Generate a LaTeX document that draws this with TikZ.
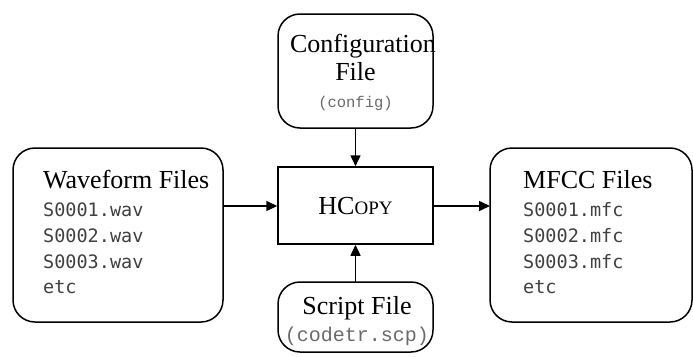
\documentclass[tikz,border=0pt]{standalone}
\usepackage{fontspec}
\setmainfont{Liberation Serif}
\newfontfamily\listmono{DejaVu Sans Mono}
\newfontfamily\argmono{Liberation Mono}
\usetikzlibrary{arrows.meta}
\definecolor{listgrey}{HTML}{404040}
\definecolor{arggrey}{HTML}{6A6A6A}
\tikzset{
  filebox/.style={draw, line width=1.5pt, rounded corners=22pt},
  toolbox/.style={draw, line width=1.5pt},
  flow/.style={line width=1.5pt, -{Triangle[length=11pt,width=10pt]}},
  heading/.style={font=\fontsize{26}{28}\selectfont, inner sep=0pt},
  entry/.style={font=\fontsize{18.5}{20}\listmono, text=listgrey, anchor=base west, inner sep=0pt},
}
\begin{document}
\begin{tikzpicture}[x=1pt,y=-1pt]
  \useasboundingbox (0,0) rectangle (693,356);

  % boxes
  \draw[filebox] (13,148) rectangle (223,322);
  \coordinate (wav) at (223,206);
  \draw[filebox] (490,148) rectangle (692,322);
  \coordinate (mfc) at (490,206);
  \draw[filebox] (278,14) rectangle (433,128);
  \coordinate (cfg) at (355.5,128);
  \draw[filebox] (278,282) rectangle (433,352);
  \coordinate (scp) at (355.5,282);
  \node[toolbox, minimum width=155pt, minimum height=77pt, inner sep=0pt] (hcopy) at (355.5,205.5) {};
  \node[font=\fontsize{26}{28}\selectfont, anchor=base, inner sep=0pt] (hname) at (355.5,214)
    {HC{\fontsize{19}{21}\selectfont OPY}};

  % waveform list
  \node[heading, anchor=base west] (wavtitle) at (43,188) {Waveform Files};
  \node[entry] (w1) at (43,216) {S0001.wav};
  \node[entry] (w2) at (43,242) {S0002.wav};
  \node[entry] (w3) at (43,268) {S0003.wav};
  \node[entry] (w4) at (43,293) {etc};

  % mfcc list
  \node[heading, anchor=base west] (mfctitle) at (523,188) {MFCC Files};
  \node[entry] (m1) at (523,216) {S0001.mfc};
  \node[entry] (m2) at (523,242) {S0002.mfc};
  \node[entry] (m3) at (523,268) {S0003.mfc};
  \node[entry] (m4) at (523,293) {etc};

  % configuration file
  \node[heading, anchor=base] (cfgt1) at (363,52) {Configuration};
  \node[heading, anchor=base] (cfgt2) at (355.5,80) {File};
  \node[anchor=base, inner sep=0pt, text=arggrey, font=\argmono\fontsize{15.5}{17}\selectfont] (cfgt3) at (355.5,107) {(config)};

  % script file
  \node[heading, anchor=base] (scpt1) at (357,314) {Script File};
  \node[anchor=base, inner sep=0pt, text=arggrey, font=\argmono\fontsize{20}{22}\selectfont] (scpt2) at (357,341) {(codetr.scp)};

  % connectors
  \draw[flow] (wav) -- (hcopy.west |- wav);
  \draw[flow] (hcopy.east |- mfc) -- (mfc);
  \draw[flow] (cfg) -- (hcopy.north);
  \draw[flow] (scp) -- (hcopy.south);
\end{tikzpicture}
\end{document}
